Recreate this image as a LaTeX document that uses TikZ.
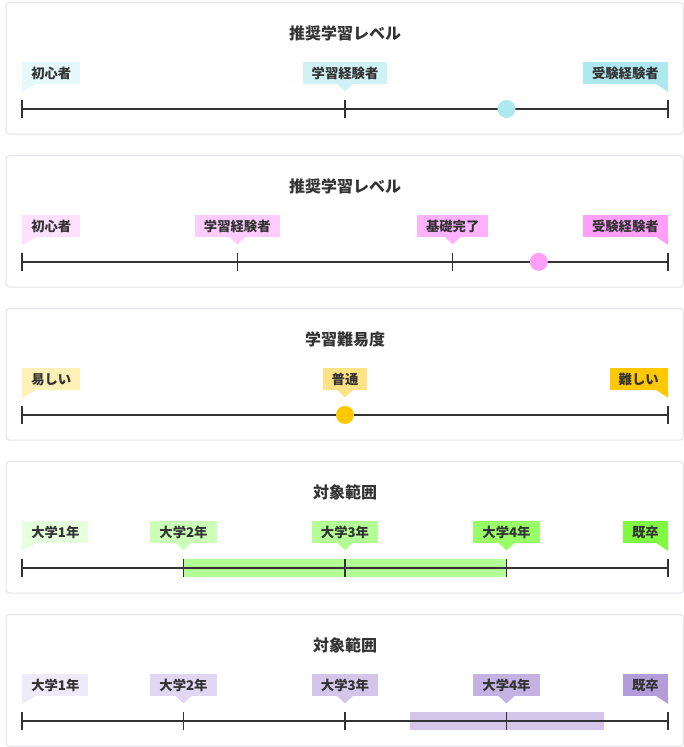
\documentclass[tikz,border=0pt]{standalone}
\usepackage{fontspec}
\setmainfont{Noto Sans CJK JP}

\definecolor{ink}{HTML}{333333}
\definecolor{frame}{HTML}{E3E3EA}
\definecolor{cyA}{HTML}{E5F8FA}
\definecolor{cyB}{HTML}{D0F2F6}
\definecolor{cyC}{HTML}{AEE8EF}
\definecolor{pkA}{HTML}{FFE0FF}
\definecolor{pkB}{HTML}{FFCCFF}
\definecolor{pkC}{HTML}{FFB3FF}
\definecolor{pkD}{HTML}{FF9FFA}
\definecolor{ylA}{HTML}{FFF0B8}
\definecolor{ylB}{HTML}{FFE285}
\definecolor{ylC}{HTML}{FFC800}
\definecolor{grA}{HTML}{E6FFDC}
\definecolor{grB}{HTML}{CCFFB8}
\definecolor{grC}{HTML}{B3FF96}
\definecolor{grD}{HTML}{99FF66}
\definecolor{grE}{HTML}{80FA40}
\definecolor{puA}{HTML}{EEEAF8}
\definecolor{puB}{HTML}{E0D8F2}
\definecolor{puC}{HTML}{D3C6EA}
\definecolor{puD}{HTML}{C4B3E2}
\definecolor{puE}{HTML}{B39CDA}

\begin{document}
\begin{tikzpicture}[x=0.75pt,y=-0.75pt,
  panel/.style={fill=white,draw=frame,rounded corners=2.5pt,line width=0.75pt},
  ttl/.style={font=\fontsize{12}{14}\selectfont\bfseries,text=ink},
  lab/.style={font=\fontsize{10}{12}\selectfont\bfseries,text=ink,inner xsep=6.75pt,inner ysep=3pt,text height=8.8pt,text depth=1.2pt},
  axisline/.style={ink,line width=1.9pt},
  tickmark/.style={ink,line width=0.8pt}]
\useasboundingbox[fill=white] (0,0) rectangle (684,747);

% panel 1
\draw[panel] (6,2.5) rectangle (683.5,134);
\node[ttl] (t1) at (345,33.2) {推奨学習レベル};
\node[lab,fill=cyA,anchor=south west] (p1a) at (22,83.9) {初心者};
\node[lab,fill=cyB,anchor=south] (p1b) at (345,83.9) {学習経験者};
\node[lab,fill=cyC,anchor=south east] (p1c) at (668,83.9) {受験経験者};
\fill[cyA] (p1a.south west) -- ++(14,0) -- ++(-14,8) -- cycle;
\fill[cyB] (p1b.south) ++(-8,0) -- ++(16,0) -- ++(-8,7.5) -- cycle;
\fill[cyC] (p1c.south east) -- ++(-12,0) -- ++(12,8) -- cycle;
\coordinate (s1) at (22,108.9);
\coordinate (e1) at (668,108.9);
\draw[axisline] (s1) -- (e1);
\foreach \x in {22,345,668}
  \draw[tickmark] (\x,99.9) -- (\x,117.9);
\fill[cyC] (506.5,108.9) circle[radius=6.75pt];

% panel 2
\draw[panel] (6,155.5) rectangle (683.5,287);
\node[ttl] (t2) at (345,186.2) {推奨学習レベル};
\node[lab,fill=pkA,anchor=south west] (p2a) at (22,236.9) {初心者};
\node[lab,fill=pkB,anchor=south] (p2b) at (237.3,236.9) {学習経験者};
\node[lab,fill=pkC,anchor=south] (p2c) at (452.7,236.9) {基礎完了};
\node[lab,fill=pkD,anchor=south east] (p2d) at (668,236.9) {受験経験者};
\fill[pkA] (p2a.south west) -- ++(14,0) -- ++(-14,8) -- cycle;
\fill[pkB] (p2b.south) ++(-8,0) -- ++(16,0) -- ++(-8,7.5) -- cycle;
\fill[pkC] (p2c.south) ++(-8,0) -- ++(16,0) -- ++(-8,7.5) -- cycle;
\fill[pkD] (p2d.south east) -- ++(-12,0) -- ++(12,8) -- cycle;
\coordinate (s2) at (22,261.9);
\coordinate (e2) at (668,261.9);
\draw[axisline] (s2) -- (e2);
\foreach \x in {22,237.3,452.7,668}
  \draw[tickmark] (\x,252.9) -- (\x,270.9);
\fill[pkD] (538.8,261.9) circle[radius=6.75pt];

% panel 3
\draw[panel] (6,308.5) rectangle (683.5,440);
\node[ttl] (t3) at (345,339.2) {学習難易度};
\node[lab,fill=ylA,anchor=south west] (p3a) at (22,389.9) {易しい};
\node[lab,fill=ylB,anchor=south] (p3b) at (345,389.9) {普通};
\node[lab,fill=ylC,anchor=south east] (p3c) at (668,389.9) {難しい};
\fill[ylA] (p3a.south west) -- ++(14,0) -- ++(-14,8) -- cycle;
\fill[ylB] (p3b.south) ++(-8,0) -- ++(16,0) -- ++(-8,7.5) -- cycle;
\fill[ylC] (p3c.south east) -- ++(-12,0) -- ++(12,8) -- cycle;
\coordinate (s3) at (22,414.9);
\coordinate (e3) at (668,414.9);
\draw[axisline] (s3) -- (e3);
\foreach \x in {22,668}
  \draw[tickmark] (\x,405.9) -- (\x,423.9);
\fill[ylC] (345,414.9) circle[radius=6.75pt];

% panel 4
\draw[panel] (6,461.5) rectangle (683.5,593);
\node[ttl] (t4) at (345,492.2) {対象範囲};
\node[lab,fill=grA,anchor=south west] (p4a) at (22,542.9) {大学1年};
\node[lab,fill=grB,anchor=south] (p4b) at (183.5,542.9) {大学2年};
\node[lab,fill=grC,anchor=south] (p4c) at (345,542.9) {大学3年};
\node[lab,fill=grD,anchor=south] (p4d) at (506.5,542.9) {大学4年};
\node[lab,fill=grE,anchor=south east] (p4e) at (668,542.9) {既卒};
\fill[grA] (p4a.south west) -- ++(14,0) -- ++(-14,8) -- cycle;
\fill[grB] (p4b.south) ++(-8,0) -- ++(16,0) -- ++(-8,7.5) -- cycle;
\fill[grC] (p4c.south) ++(-8,0) -- ++(16,0) -- ++(-8,7.5) -- cycle;
\fill[grD] (p4d.south) ++(-8,0) -- ++(16,0) -- ++(-8,7.5) -- cycle;
\fill[grE] (p4e.south east) -- ++(-12,0) -- ++(12,8) -- cycle;
\coordinate (s4) at (22,567.9);
\coordinate (e4) at (668,567.9);
\fill[grC] (183.5,558.9) rectangle (506.5,576.9);
\draw[axisline] (s4) -- (e4);
\foreach \x in {22,183.5,345,506.5,668}
  \draw[tickmark] (\x,558.9) -- (\x,576.9);

% panel 5
\draw[panel] (6,614.5) rectangle (683.5,746);
\node[ttl] (t5) at (345,645.2) {対象範囲};
\node[lab,fill=puA,anchor=south west] (p5a) at (22,695.9) {大学1年};
\node[lab,fill=puB,anchor=south] (p5b) at (183.5,695.9) {大学2年};
\node[lab,fill=puC,anchor=south] (p5c) at (345,695.9) {大学3年};
\node[lab,fill=puD,anchor=south] (p5d) at (506.5,695.9) {大学4年};
\node[lab,fill=puE,anchor=south east] (p5e) at (668,695.9) {既卒};
\fill[puA] (p5a.south west) -- ++(14,0) -- ++(-14,8) -- cycle;
\fill[puB] (p5b.south) ++(-8,0) -- ++(16,0) -- ++(-8,7.5) -- cycle;
\fill[puC] (p5c.south) ++(-8,0) -- ++(16,0) -- ++(-8,7.5) -- cycle;
\fill[puD] (p5d.south) ++(-8,0) -- ++(16,0) -- ++(-8,7.5) -- cycle;
\fill[puE] (p5e.south east) -- ++(-12,0) -- ++(12,8) -- cycle;
\coordinate (s5) at (22,720.9);
\coordinate (e5) at (668,720.9);
\fill[puC] (409.6,712.3) rectangle (603.6,730.3);
\draw[axisline] (s5) -- (e5);
\foreach \x in {22,183.5,345,506.5,668}
  \draw[tickmark] (\x,711.9) -- (\x,729.9);
\end{tikzpicture}
\end{document}
